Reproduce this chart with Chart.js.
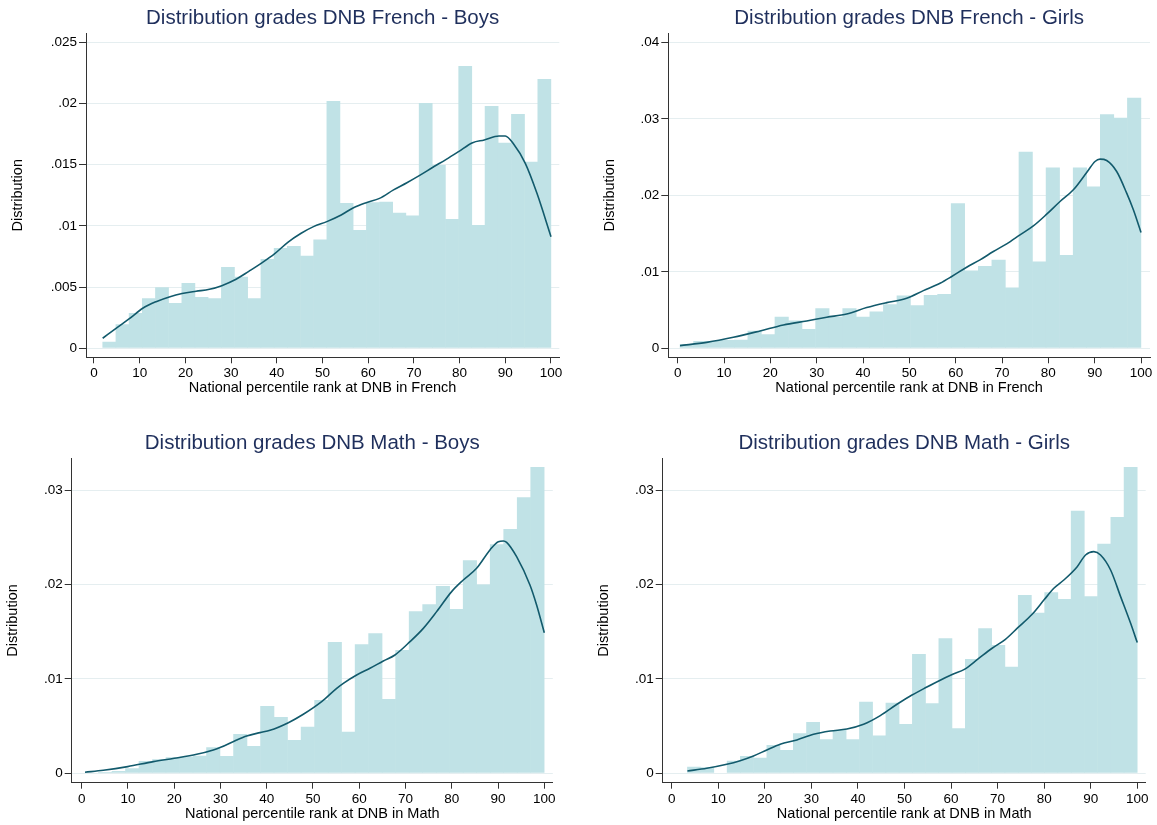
<!DOCTYPE html>
<html>
<head>
<meta charset="utf-8">
<script src="https://cdn.jsdelivr.net/npm/chart.js@4.4.1/dist/chart.umd.min.js"></script>
<style>
  html, body { margin: 0; padding: 0; background: #ffffff; }
  body { width: 1157px; height: 825px; position: relative; overflow: hidden; }
  canvas { position: absolute; }
</style>
</head>
<body>
<canvas id="c1" width="578" height="412" style="left:0px;top:0px;width:578px;height:412px"></canvas>
<canvas id="c2" width="579" height="412" style="left:578px;top:0px;width:579px;height:412px"></canvas>
<canvas id="c3" width="578" height="413" style="left:0px;top:412px;width:578px;height:413px"></canvas>
<canvas id="c4" width="579" height="413" style="left:578px;top:412px;width:579px;height:413px"></canvas>
<script>
// ---------------- DATA ----------------
const xTicks = [0, 10, 20, 30, 40, 50, 60, 70, 80, 90, 100];
const xTickLabels = ['0', '10', '20', '30', '40', '50', '60', '70', '80', '90', '100'];

// French - Boys
const frenchBoysTitle = 'Distribution grades DNB French - Boys';
const frenchBoysBinStart = 1.9;
const frenchBoysBinWidth = 2.885;
const frenchBoysBins = [0.00054, 0.00196, 0.00289, 0.00409, 0.00498, 0.0037, 0.00534, 0.00419, 0.00409, 0.00664,
  0.00585, 0.00409, 0.0073, 0.0082, 0.00836, 0.00757, 0.00888, 0.0202, 0.01187, 0.00967,
  0.01193, 0.01198, 0.01108, 0.01084, 0.02004, 0.01498, 0.01057, 0.02307, 0.01008, 0.0198,
  0.0168, 0.01914, 0.01525, 0.022];
const frenchBoysDensityX = [1.9, 4.82, 7.74, 10.66, 13.58, 16.64, 19.27, 22.34, 25.26, 27.96, 31.09, 33.87, 36.57, 39.49,
  42.41, 45.33, 48.03, 50.95, 54.09, 56.79, 59.56, 62.48, 65.55, 68.47, 71.17, 74.16, 77.08, 79.78, 82.85, 85.4,
  88.61, 90.0, 91.82, 94.38, 96.93, 100];
const frenchBoysDensityY = [0.00082, 0.00163, 0.00242, 0.00327, 0.00381, 0.00422, 0.00447, 0.00466, 0.00482, 0.00512,
  0.00564, 0.00629, 0.00694, 0.00771, 0.00866, 0.0094, 0.00994, 0.01035, 0.01089, 0.01149, 0.0119, 0.01225, 0.01294,
  0.01353, 0.01411, 0.01479, 0.01544, 0.01607, 0.0168, 0.01702, 0.01735, 0.01735, 0.01669, 0.01511, 0.01266, 0.00912];
const frenchBoysYTicks = [0, 0.005, 0.01, 0.015, 0.02, 0.025];
const frenchBoysYLabels = ['0', '.005', '.01', '.015', '.02', '.025'];

// French - Girls
const frenchGirlsTitle = 'Distribution grades DNB French - Girls';
const frenchGirlsBinStart = 0.5;
const frenchGirlsBinWidth = 2.926;
const frenchGirlsBins = [0.00052, 0.00096, 0.00096, 0.0011, 0.00113, 0.00231, 0.00183, 0.00414, 0.00362, 0.00253,
  0.00523, 0.00414, 0.00523, 0.00414, 0.0048, 0.00576, 0.00689, 0.00563, 0.00698, 0.00711,
  0.01897, 0.01016, 0.01077, 0.01156, 0.00794, 0.02569, 0.01134, 0.02364, 0.01221, 0.02364,
  0.02115, 0.03061, 0.03013, 0.03275];
const frenchGirlsDensityX = [0.5, 6.26, 12.01, 17.77, 22.81, 27.84, 32.16, 36.47, 40.79, 45.11, 49.42, 53.02, 56.62,
  59.14, 62.37, 65.25, 68.13, 71.01, 73.88, 76.76, 79.64, 82.52, 85.4, 88.27, 90.07, 91.15, 92.59, 94.75, 96.91,
  98.35, 100];
const frenchGirlsDensityY = [0.00035, 0.00078, 0.00144, 0.00227, 0.00305, 0.00358, 0.00406, 0.00449, 0.00532, 0.00597,
  0.00654, 0.00754, 0.0085, 0.00938, 0.0106, 0.01156, 0.01265, 0.01365, 0.01483, 0.016, 0.01753, 0.01919, 0.02072,
  0.02298, 0.02442, 0.02473, 0.02455, 0.02311, 0.02028, 0.0181, 0.01513];
const frenchGirlsYTicks = [0, 0.01, 0.02, 0.03, 0.04];
const frenchGirlsYLabels = ['0', '.01', '.02', '.03', '.04'];

// Math - Boys
const mathBoysTitle = 'Distribution grades DNB Math - Boys';
const mathBoysBinStart = 0.7;
const mathBoysBinWidth = 2.92;
const mathBoysBins = [0.00007, 0.00014, 0.00025, 0.00053, 0.0013, 0.00148, 0.0017, 0.00176, 0.00187, 0.00275,
  0.00184, 0.00416, 0.0029, 0.00713, 0.00596, 0.00353, 0.00494, 0.00776, 0.0139, 0.00441,
  0.01366, 0.01482, 0.00787, 0.01306, 0.01715, 0.01789, 0.01984, 0.0174, 0.02255, 0.01998,
  0.02425, 0.02587, 0.02922, 0.03244];
const mathBoysDensityX = [0.72, 4.68, 9.94, 15.49, 20.03, 24.86, 28.46, 30.04, 33.5, 35.66, 38.54, 40.71, 44.67, 47.91,
  51.87, 55.12, 56.56, 59.44, 62.32, 65.2, 67.72, 70.97, 73.85, 76.73, 79.97, 82.49, 85.37, 88.26, 90.06, 91.14,
  91.86, 94.02, 96.9, 98.34, 100];
const mathBoysDensityY = [0.00011, 0.00032, 0.00071, 0.00124, 0.00159, 0.00201, 0.00247, 0.00275, 0.00353, 0.00395,
  0.00431, 0.00455, 0.00536, 0.00625, 0.00759, 0.009, 0.00953, 0.01041, 0.01112, 0.01189, 0.01253, 0.01394, 0.01535,
  0.01712, 0.01924, 0.02047, 0.02171, 0.02365, 0.02453, 0.0246, 0.02446, 0.02294, 0.01994, 0.01782, 0.01489];
const mathBoysYTicks = [0, 0.01, 0.02, 0.03];
const mathBoysYLabels = ['0', '.01', '.02', '.03'];

// Math - Girls
const mathGirlsTitle = 'Distribution grades DNB Math - Girls';
const mathGirlsBinStart = 3.37;
const mathGirlsBinWidth = 2.842;
const mathGirlsBins = [0.0007, 0.00064, 0, 0.00134, 0.00184, 0.00166, 0.003, 0.00247, 0.00424, 0.00544,
  0.0036, 0.00459, 0.0036, 0.00759, 0.00399, 0.00748, 0.00522, 0.01264, 0.00741, 0.01429,
  0.00476, 0.01211, 0.01535, 0.01359, 0.01129, 0.01888, 0.01701, 0.01916, 0.01846, 0.02781,
  0.01874, 0.02432, 0.02714, 0.03244];
const mathGirlsDensityX = [3.37, 7.53, 11.83, 14.7, 17.56, 20.43, 23.3, 26.88, 30.47, 34.05, 37.63, 41.22, 44.8, 48.39,
  51.61, 54.7, 57.35, 60.36, 62.87, 65.81, 68.82, 71.68, 74.34, 77.42, 80.07, 82.08, 84.23, 87.1, 88.89, 90.68,
  92.11, 94.27, 96.42, 98.57, 100];
const mathGirlsDensityY = [0.00025, 0.00053, 0.00095, 0.00134, 0.00184, 0.00247, 0.00307, 0.00353, 0.00413, 0.00448,
  0.00469, 0.00519, 0.00611, 0.00731, 0.00829, 0.00911, 0.00978, 0.01048, 0.01101, 0.01211, 0.01324, 0.01419,
  0.01542, 0.01684, 0.01842, 0.01959, 0.02047, 0.02188, 0.02312, 0.02347, 0.02312, 0.02153, 0.01871, 0.01588, 0.01384];
const mathGirlsYTicks = [0, 0.01, 0.02, 0.03];
const mathGirlsYLabels = ['0', '.01', '.02', '.03'];

const xTitleFrench = 'National percentile rank at DNB in French';
const xTitleMath = 'National percentile rank at DNB in Math';
const yTitleText = 'Distribution';

// ---------------- STYLE ----------------
const FONT = "'Liberation Sans', Arial, Helvetica, sans-serif";
const BAR_COLOR = '#c0e2e6';
const LINE_COLOR = '#125a6c';
const TITLE_COLOR = '#1f2f5c';
const GRID_COLOR = '#e5eef0';
const AXIS_COLOR = '#333333';
const AXIS_TITLE_SIZE = 14.5;

function makeChart(id, p) {
  const lineData = p.lineX.map((x, i) => ({ x: x, y: p.lineY[i] }));
  const barData = p.bins.map((v, i) => ({ x: p.binStart + p.binWidth * (i + 0.5), y: v }));
  return new Chart(document.getElementById(id), {
    type: 'bar',
    data: {
      datasets: [
        { type: 'line', data: lineData, borderColor: LINE_COLOR, borderWidth: 1.6, pointRadius: 0,
          cubicInterpolationMode: 'monotone', fill: false, order: 0 },
        { type: 'bar', data: barData, backgroundColor: BAR_COLOR, borderWidth: 0,
          barPercentage: 1.04, categoryPercentage: 1, order: 1 }
      ]
    },
    options: {
      responsive: false, animation: false, devicePixelRatio: 1,
      layout: { padding: p.pad },
      plugins: {
        legend: { display: false },
        tooltip: { enabled: false },
        title: {
          display: true, text: p.title, fullSize: false, color: TITLE_COLOR,
          font: { family: FONT, size: 20.5, weight: 'normal', lineHeight: 1.2 },
          padding: { top: p.titleTop, bottom: p.titleBottom }
        }
      },
      scales: {
        x: {
          type: 'linear', offset: false, bounds: 'data', min: p.xMin, max: p.xMax,
          afterBuildTicks: s => { s.ticks = xTicks.map(v => ({ value: v })); },
          afterFit: s => { s.height = p.xAxisH; },
          grid: { display: true, drawOnChartArea: false, drawTicks: true, tickLength: 6, tickColor: AXIS_COLOR, offset: false },
          border: { display: true, color: AXIS_COLOR, width: 1 },
          ticks: { padding: 2, color: '#000', font: { family: FONT, size: 13.5 }, maxRotation: 0, autoSkip: false,
                   callback: (v, i) => xTickLabels[i] },
          title: { display: true, text: p.xTitle, color: '#000', font: { family: FONT, size: AXIS_TITLE_SIZE, lineHeight: 1.2 },
                   padding: { top: 0, bottom: p.xTitlePadB } }
        },
        y: {
          type: 'linear', bounds: 'data', min: p.yMin, max: p.yMax,
          afterBuildTicks: s => { s.ticks = p.yTicks.map(v => ({ value: v })); },
          afterFit: s => { s.width = p.yAxisW; },
          grid: { color: GRID_COLOR, lineWidth: 1, drawTicks: true, tickLength: 7, tickColor: AXIS_COLOR },
          border: { display: true, color: AXIS_COLOR, width: 1 },
          ticks: { padding: 2, color: '#000', font: { family: FONT, size: 13.5 }, autoSkip: false,
                   callback: (v, i) => p.yLabels[i] },
          title: { display: true, text: yTitleText, color: '#000', font: { family: FONT, size: AXIS_TITLE_SIZE, lineHeight: 1.2 },
                   padding: { top: p.yTitlePadT, bottom: 0 } }
        }
      }
    }
  });
}

makeChart('c1', {
  title: frenchBoysTitle, xTitle: xTitleFrench,
  bins: frenchBoysBins, binStart: frenchBoysBinStart, binWidth: frenchBoysBinWidth,
  lineX: frenchBoysDensityX, lineY: frenchBoysDensityY,
  yTicks: frenchBoysYTicks, yLabels: frenchBoysYLabels,
  xMin: -1.75, xMax: 101.82, yMin: -0.000735, yMax: 0.025735,
  pad: { left: 0, right: 18.7, top: 0, bottom: 11.9 },
  yAxisW: 86, xAxisH: 42.8, titleTop: 5.7, titleBottom: 3.0, xTitlePadB: 3.1, yTitlePadT: 9.3
});

makeChart('c2', {
  title: frenchGirlsTitle, xTitle: xTitleFrench,
  bins: frenchGirlsBins, binStart: frenchGirlsBinStart, binWidth: frenchGirlsBinWidth,
  lineX: frenchGirlsDensityX, lineY: frenchGirlsDensityY,
  yTicks: frenchGirlsYTicks, yLabels: frenchGirlsYLabels,
  xMin: -2.03, xMax: 101.94, yMin: -0.001176, yMax: 0.041176,
  pad: { left: 0, right: 7, top: 0, bottom: 11.9 },
  yAxisW: 90.3, xAxisH: 42.8, titleTop: 5.7, titleBottom: 3.0, xTitlePadB: 3.1, yTitlePadT: 23.3
});

makeChart('c3', {
  title: mathBoysTitle, xTitle: xTitleMath,
  bins: mathBoysBins, binStart: mathBoysBinStart, binWidth: mathBoysBinWidth,
  lineX: mathBoysDensityX, lineY: mathBoysDensityY,
  yTicks: mathBoysYTicks, yLabels: mathBoysYLabels,
  xMin: -2.16, xMax: 101.84, yMin: -0.000995, yMax: 0.033357,
  pad: { left: 0, right: 25.2, top: 0, bottom: 1.2 },
  yAxisW: 71.7, xAxisH: 41.1, titleTop: 18.7, titleBottom: 3.0, xTitlePadB: 1.1, yTitlePadT: 4.3
});

makeChart('c4', {
  title: mathGirlsTitle, xTitle: xTitleMath,
  bins: mathGirlsBins, binStart: mathGirlsBinStart, binWidth: mathGirlsBinWidth,
  lineX: mathGirlsDensityX, lineY: mathGirlsDensityY,
  yTicks: mathGirlsYTicks, yLabels: mathGirlsYLabels,
  xMin: -1.935, xMax: 101.81, yMin: -0.000995, yMax: 0.033357,
  pad: { left: 0, right: 11.3, top: 0, bottom: 1.2 },
  yAxisW: 84.7, xAxisH: 41.1, titleTop: 18.7, titleBottom: 3.0, xTitlePadB: 1.1, yTitlePadT: 17.3
});
</script>
</body>
</html>
